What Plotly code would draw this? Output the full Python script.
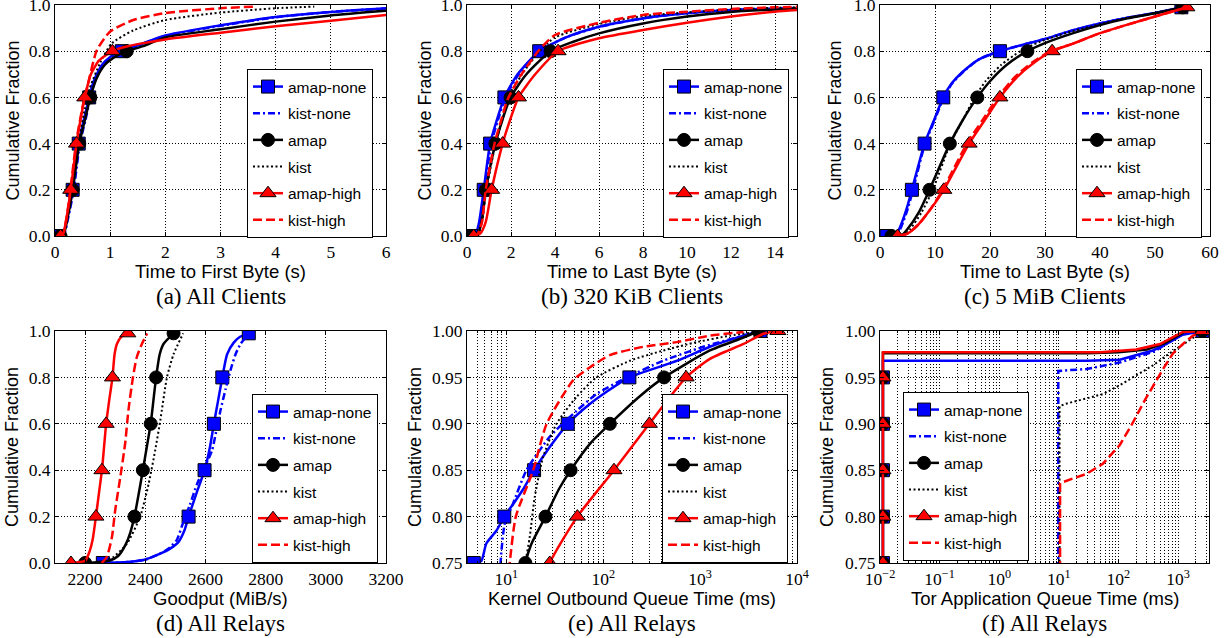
import plotly.graph_objects as go

W, H = 1231, 638

SERIES = ["amap-none", "kist-none", "amap", "kist", "amap-high", "kist-high"]

# ---------------- (a) Time to First Byte, all clients ----------------
A_AMAP_NONE_X = [0.06, 0.15, 0.22, 0.32, 0.43, 0.52, 0.62, 0.7, 0.85, 1.0, 1.21, 1.5, 2.0, 3.0, 4.0, 5.0, 6.0]
A_AMAP_NONE_Y = [0.0, 0.01, 0.08, 0.2, 0.4, 0.5, 0.6, 0.67, 0.74, 0.775, 0.8, 0.825, 0.868, 0.912, 0.948, 0.97, 0.986]
A_KIST_NONE_X = [0.12, 0.17, 0.24, 0.34, 0.45, 0.55, 0.64, 0.72, 0.86, 1.0, 1.25, 1.5, 2.0, 3.0, 4.0, 5.0, 6.0]
A_KIST_NONE_Y = [0.0, 0.01, 0.08, 0.2, 0.4, 0.5, 0.6, 0.67, 0.74, 0.772, 0.8, 0.825, 0.866, 0.91, 0.947, 0.97, 0.985]
A_AMAP_X = [0.1, 0.16, 0.23, 0.32, 0.44, 0.54, 0.64, 0.75, 0.9, 1.05, 1.3, 1.6, 2.0, 3.0, 4.0, 5.0, 6.0]
A_AMAP_Y = [0.0, 0.01, 0.08, 0.2, 0.4, 0.5, 0.6, 0.68, 0.74, 0.77, 0.8, 0.822, 0.86, 0.895, 0.928, 0.955, 0.975]
A_KIST_X = [0.1, 0.16, 0.22, 0.3, 0.42, 0.54, 0.63, 0.82, 1.03, 1.42, 2.0, 3.0, 4.0, 4.7]
A_KIST_Y = [0.0, 0.01, 0.08, 0.2, 0.4, 0.55, 0.64, 0.75, 0.834, 0.89, 0.935, 0.967, 0.986, 0.993]
A_AMAP_HIGH_X = [0.1, 0.15, 0.21, 0.285, 0.39, 0.46, 0.54, 0.65, 0.8, 1.04, 1.3, 1.6, 2.0, 3.0, 4.0, 5.0, 6.0]
A_AMAP_HIGH_Y = [0.0, 0.01, 0.08, 0.2, 0.4, 0.5, 0.6, 0.7, 0.76, 0.8, 0.82, 0.835, 0.851, 0.88, 0.908, 0.932, 0.957]
A_KIST_HIGH_X = [0.1, 0.15, 0.21, 0.28, 0.38, 0.5, 0.6, 0.76, 1.0, 1.42, 2.0, 3.0, 3.6]
A_KIST_HIGH_Y = [0.0, 0.01, 0.08, 0.2, 0.4, 0.56, 0.66, 0.805, 0.885, 0.935, 0.965, 0.986, 0.993]

# ---------------- (b) Time to Last Byte, 320 KiB clients ----------------
B_AMAP_NONE_X = [0.19, 0.4, 0.55, 0.76, 1.05, 1.35, 1.7, 2.3, 3.28, 4.5, 6, 8, 10, 12, 15]
B_AMAP_NONE_Y = [0.0, 0.01, 0.06, 0.2, 0.4, 0.5, 0.6, 0.7, 0.8, 0.86, 0.906, 0.942, 0.964, 0.978, 0.986]
B_KIST_NONE_X = [0.25, 0.42, 0.58, 0.8, 1.1, 1.4, 1.75, 2.35, 3.3, 4.5, 6, 8, 10, 12, 15]
B_KIST_NONE_Y = [0.0, 0.01, 0.06, 0.2, 0.4, 0.5, 0.6, 0.7, 0.8, 0.86, 0.905, 0.943, 0.965, 0.978, 0.987]
B_AMAP_X = [0.2, 0.5, 0.66, 0.86, 1.29, 1.6, 1.98, 2.7, 3.8, 4.8, 6, 8, 10, 12, 15]
B_AMAP_Y = [0.0, 0.01, 0.06, 0.2, 0.4, 0.5, 0.6, 0.7, 0.8, 0.84, 0.877, 0.92, 0.95, 0.97, 0.985]
B_KIST_X = [0.25, 0.5, 0.68, 0.88, 1.3, 1.6, 1.9, 2.5, 3.3, 4.0, 6, 8, 10, 12, 14, 15]
B_KIST_Y = [0.0, 0.01, 0.06, 0.2, 0.4, 0.5, 0.6, 0.7, 0.8, 0.86, 0.918, 0.952, 0.968, 0.98, 0.988, 0.99]
B_AMAP_HIGH_X = [0.3, 0.6, 0.85, 1.12, 1.62, 1.95, 2.34, 3.1, 4.14, 6, 8, 10, 12, 14, 15]
B_AMAP_HIGH_Y = [0.0, 0.01, 0.06, 0.2, 0.4, 0.5, 0.6, 0.7, 0.8, 0.856, 0.892, 0.923, 0.95, 0.971, 0.978]
B_KIST_HIGH_X = [0.25, 0.5, 0.68, 0.85, 1.25, 1.55, 1.84, 2.41, 3.28, 4.0, 6, 8, 10, 12, 14, 15]
B_KIST_HIGH_Y = [0.0, 0.01, 0.06, 0.2, 0.4, 0.5, 0.59, 0.69, 0.805, 0.87, 0.923, 0.957, 0.971, 0.983, 0.99, 0.992]

# ---------------- (c) Time to Last Byte, 5 MiB clients ----------------
C_AMAP_NONE_X = [1.2, 3.0, 4.0, 5.0, 5.8, 8.1, 9.8, 11.5, 13, 15, 18, 21.8, 25, 30, 35, 40, 45, 50, 54.8]
C_AMAP_NONE_Y = [0.0, 0.01, 0.06, 0.13, 0.2, 0.4, 0.5, 0.6, 0.66, 0.71, 0.765, 0.8, 0.822, 0.853, 0.89, 0.92, 0.945, 0.965, 0.99]
C_KIST_NONE_X = [1.5, 3.2, 4.2, 5.2, 6.0, 8.2, 9.9, 11.6, 13.1, 15.1, 18, 21.6, 25, 30, 35, 40, 45, 50, 55]
C_KIST_NONE_Y = [0.0, 0.01, 0.06, 0.13, 0.2, 0.4, 0.5, 0.6, 0.66, 0.71, 0.765, 0.8, 0.822, 0.853, 0.89, 0.92, 0.945, 0.965, 0.99]
C_AMAP_X = [2.1, 4.0, 5.0, 7.0, 9.0, 12.7, 15.0, 17.7, 20, 23, 26.8, 30, 35, 40, 45, 50, 55]
C_AMAP_Y = [0.0, 0.005, 0.03, 0.1, 0.2, 0.4, 0.5, 0.6, 0.67, 0.74, 0.8, 0.835, 0.877, 0.913, 0.942, 0.964, 0.99]
C_KIST_X = [2.5, 4.5, 5.5, 7.5, 9.6, 12.8, 15.0, 17.2, 19.2, 22.0, 25.5, 29, 34, 40, 45, 50, 55]
C_KIST_Y = [0.0, 0.005, 0.03, 0.1, 0.2, 0.4, 0.5, 0.6, 0.67, 0.74, 0.8, 0.84, 0.88, 0.917, 0.945, 0.966, 0.99]
C_AMAP_HIGH_X = [3.2, 5.0, 7.0, 9.0, 11.6, 16.2, 19.0, 21.8, 25, 28, 31.3, 35, 40, 45, 50, 55.8]
C_AMAP_HIGH_Y = [0.0, 0.01, 0.05, 0.11, 0.2, 0.4, 0.5, 0.6, 0.69, 0.75, 0.8, 0.832, 0.878, 0.915, 0.95, 0.99]
C_KIST_HIGH_X = [3.5, 5.0, 7.0, 9.0, 11.4, 15.8, 18.6, 21.4, 24.6, 27.6, 31.0, 35, 40, 45, 50, 55.8]
C_KIST_HIGH_Y = [0.0, 0.01, 0.05, 0.11, 0.2, 0.4, 0.5, 0.6, 0.69, 0.75, 0.8, 0.832, 0.878, 0.915, 0.95, 0.99]

# ---------------- (d) Goodput, all relays ----------------
D_AMAP_NONE_X = [2259, 2350, 2400, 2440, 2480, 2510, 2530, 2544, 2570, 2597, 2615, 2628, 2642, 2656, 2672, 2694, 2715, 2744]
D_AMAP_NONE_Y = [0.0, 0.005, 0.015, 0.035, 0.06, 0.09, 0.14, 0.2, 0.3, 0.4, 0.5, 0.6, 0.7, 0.8, 0.9, 0.95, 0.975, 0.99]
D_KIST_NONE_X = [2270, 2350, 2400, 2440, 2475, 2505, 2522, 2548, 2572, 2600, 2622, 2636, 2650, 2667, 2683, 2700, 2717, 2745]
D_KIST_NONE_Y = [0.0, 0.005, 0.015, 0.035, 0.06, 0.1, 0.16, 0.25, 0.34, 0.42, 0.486, 0.57, 0.658, 0.75, 0.83, 0.9, 0.945, 0.99]
D_AMAP_X = [2200, 2280, 2310, 2335, 2350, 2364, 2392, 2405, 2418, 2427, 2436, 2448, 2461, 2494]
D_AMAP_Y = [0.0, 0.01, 0.03, 0.08, 0.13, 0.2, 0.4, 0.5, 0.6, 0.7, 0.8, 0.9, 0.945, 0.99]
D_KIST_X = [2250, 2294, 2339, 2383, 2411, 2433, 2450, 2472, 2494, 2526]
D_KIST_Y = [0.0, 0.026, 0.083, 0.2, 0.34, 0.486, 0.615, 0.8, 0.9, 0.99]
D_AMAP_HIGH_X = [2153, 2200, 2215, 2225, 2236, 2246, 2256, 2263, 2270, 2280, 2291, 2298, 2306, 2320, 2342]
D_AMAP_HIGH_Y = [0.0, 0.01, 0.05, 0.1, 0.2, 0.3, 0.4, 0.5, 0.6, 0.7, 0.8, 0.9, 0.945, 0.975, 0.99]
D_KIST_HIGH_X = [2255, 2272, 2289, 2300, 2317, 2333, 2344, 2359, 2372, 2389, 2406]
D_KIST_HIGH_Y = [0.0, 0.026, 0.11, 0.227, 0.37, 0.514, 0.658, 0.8, 0.888, 0.945, 0.99]

# ---------------- (e) Kernel outbound queue time (ms), all relays ----------------
E_AMAP_NONE_X = [3.5, 4.6, 5.5, 6.2, 7.9, 9.5, 12, 15, 19.3, 28, 43, 70, 110, 186, 580, 1260, 2800, 4200]
E_AMAP_NONE_Y = [0.70, 0.75, 0.752, 0.771, 0.785, 0.80, 0.815, 0.83, 0.85, 0.875, 0.90, 0.92, 0.935, 0.95, 0.968, 0.983, 0.995, 1.0]
E_KIST_NONE_X = [8.0, 8.7, 8.9, 9.6, 11.7, 16.1, 28, 53, 85, 161, 417, 1080, 2800, 4000]
E_KIST_NONE_Y = [0.70, 0.75, 0.764, 0.792, 0.814, 0.85, 0.886, 0.914, 0.932, 0.948, 0.968, 0.983, 0.995, 1.0]
E_AMAP_X = [14, 15.7, 18, 25.3, 35, 46, 75, 117, 240, 424, 1260, 2800, 4000]
E_AMAP_Y = [0.72, 0.75, 0.77, 0.80, 0.83, 0.85, 0.88, 0.90, 0.93, 0.95, 0.979, 0.993, 1.0]
E_KIST_X = [14, 15.7, 17.4, 19.6, 23.9, 32.9, 53, 85, 189, 417, 922, 2040, 3860]
E_KIST_Y = [0.70, 0.75, 0.778, 0.821, 0.864, 0.90, 0.929, 0.95, 0.968, 0.979, 0.988, 0.995, 0.999]
E_AMAP_HIGH_X = [20, 28, 54, 129, 299, 716, 1260, 2800, 4500, 6350]
E_AMAP_HIGH_Y = [0.70, 0.75, 0.80, 0.85, 0.90, 0.95, 0.97, 0.986, 0.997, 1.0]
E_KIST_HIGH_X = [9.5, 10.8, 12.5, 18.9, 26, 49, 73, 117, 259, 573, 1260, 2800]
E_KIST_HIGH_Y = [0.70, 0.75, 0.80, 0.85, 0.90, 0.947, 0.961, 0.974, 0.983, 0.988, 0.995, 0.999]

# ---------------- (f) Tor application queue time (ms), all relays ----------------
F_AMAP_NONE_X = [0.0112, 0.0112, 0.0112, 0.0112, 0.0112, 0.0112, 0.0112, 30, 105, 380, 725, 1200, 2570]
F_AMAP_NONE_Y = [0.0, 0.75, 0.80, 0.85, 0.90, 0.95, 0.968, 0.968, 0.969, 0.979, 0.988, 0.996, 1.0]
F_KIST_NONE_X = [9.8, 9.8, 9.8, 29, 105, 400, 800, 1200]
F_KIST_NONE_Y = [0.0, 0.75, 0.957, 0.959, 0.966, 0.978, 0.99, 0.998]
F_AMAP_X = [0.0112, 0.0112, 0.0112, 0.0112, 0.0112, 0.0112, 0.0112, 30, 100, 300, 600, 1000, 1300, 2570]
F_AMAP_Y = [0.0, 0.75, 0.80, 0.85, 0.90, 0.95, 0.976, 0.976, 0.977, 0.98, 0.987, 0.995, 0.999, 1.0]
F_KIST_X = [10.3, 10.3, 13.3, 29, 55, 105, 200, 380, 725, 1380, 2040]
F_KIST_Y = [0.0, 0.919, 0.9217, 0.927, 0.932, 0.9415, 0.952, 0.963, 0.976, 0.988, 0.995]
F_AMAP_HIGH_X = [0.0112, 0.0112, 0.0112, 0.0112, 0.0112, 0.0112, 0.0112, 50, 200, 500, 1000, 1200, 2570]
F_AMAP_HIGH_Y = [0.0, 0.75, 0.80, 0.85, 0.90, 0.95, 0.977, 0.977, 0.98, 0.986, 0.996, 0.999, 1.0]
F_KIST_HIGH_X = [10.5, 10.5, 17.2, 29, 55, 105, 164, 275, 560, 825, 1210, 1780, 2630]
F_KIST_HIGH_Y = [0.0, 0.836, 0.841, 0.846, 0.857, 0.877, 0.898, 0.925, 0.959, 0.976, 0.986, 0.995, 0.999]

# marker levels (cumulative fractions at which markers sit)
MARKS_FULL = [0.0, 0.2, 0.4, 0.6, 0.8, 0.99]
MARKS_TAIL = [0.75, 0.80, 0.85, 0.90, 0.95, 1.0]

# tick labels
FRAC_TICKS = [0.0, 0.2, 0.4, 0.6, 0.8, 1.0]
FRAC_LABELS = ["0.0", "0.2", "0.4", "0.6", "0.8", "1.0"]
TAIL_TICKS = [0.75, 0.80, 0.85, 0.90, 0.95, 1.00]
TAIL_LABELS = ["0.75", "0.80", "0.85", "0.90", "0.95", "1.00"]
A_XTICKS = [0, 1, 2, 3, 4, 5, 6]
B_XTICKS = [0, 2, 4, 6, 8, 10, 12, 14]
C_XTICKS = [0, 10, 20, 30, 40, 50, 60]
D_XTICKS = [2200, 2400, 2600, 2800, 3000, 3200]
E_XTICKS = [10, 100, 1000, 10000]
E_XLABELS = ["10<sup>1</sup>", "10<sup>2</sup>", "10<sup>3</sup>", "10<sup>4</sup>"]
F_XTICKS = [0.01, 0.1, 1, 10, 100, 1000]
F_XLABELS = ["10<sup>\u22122</sup>", "10<sup>\u22121</sup>", "10<sup>0</sup>",
             "10<sup>1</sup>", "10<sup>2</sup>", "10<sup>3</sup>"]

STYLE = {
    "amap-none": dict(color="#0000ff", dash="solid", width=2.5, symbol="square", size=13),
    "kist-none": dict(color="#0000ff", dash="7px,3px,2px,3px", width=2.5, symbol=None, size=0),
    "amap": dict(color="#000000", dash="solid", width=2.5, symbol="circle", size=13),
    "kist": dict(color="#000000", dash="2px,2.5px", width=2, symbol=None, size=0),
    "amap-high": dict(color="#ff0000", dash="solid", width=2.5, symbol="triangle-up", size=14),
    "kist-high": dict(color="#ff0000", dash="9px,4px", width=2.5, symbol=None, size=0),
}


def pack(prefix):
    g = globals()
    keys = ["AMAP_NONE", "KIST_NONE", "AMAP", "KIST", "AMAP_HIGH", "KIST_HIGH"]
    return {s: (g[f"{prefix}_{k}_X"], g[f"{prefix}_{k}_Y"]) for s, k in zip(SERIES, keys)}


def minor_log(lo, hi):
    return [m * 10.0 ** e for e in range(lo, hi) for m in range(2, 10)]


PANELS = [
    dict(key="a", data=pack("A"), xdom=(55, 386), ydom=(5, 236), xtype="linear", xrange=[0, 6],
         xticks=A_XTICKS, xlabels=[str(v) for v in A_XTICKS], yrange=[0, 1], yticks=FRAC_TICKS,
         ylabels=FRAC_LABELS, marks=MARKS_FULL, legend=(247, 69), spline=True,
         xtitle="Time to First Byte (s)", caption="(a) All Clients", ytx=13),
    dict(key="b", data=pack("B"), xdom=(467, 797), ydom=(5, 236), xtype="linear", xrange=[0, 15],
         xticks=B_XTICKS, xlabels=[str(v) for v in B_XTICKS], yrange=[0, 1], yticks=FRAC_TICKS,
         ylabels=FRAC_LABELS, marks=MARKS_FULL, legend=(663, 69), spline=True,
         xtitle="Time to Last Byte (s)", caption="(b) 320 KiB Clients", ytx=425),
    dict(key="c", data=pack("C"), xdom=(880, 1210), ydom=(5, 236), xtype="linear", xrange=[0, 60],
         xticks=C_XTICKS, xlabels=[str(v) for v in C_XTICKS], yrange=[0, 1], yticks=FRAC_TICKS,
         ylabels=FRAC_LABELS, marks=MARKS_FULL, legend=(1076, 69), spline=True,
         xtitle="Time to Last Byte (s)", caption="(c) 5 MiB Clients", ytx=835),
    dict(key="d", data=pack("D"), xdom=(55, 386), ydom=(331, 563), xtype="linear", xrange=[2100, 3200],
         xticks=D_XTICKS, xlabels=[str(v) for v in D_XTICKS], yrange=[0, 1], yticks=FRAC_TICKS,
         ylabels=FRAC_LABELS, marks=MARKS_FULL, legend=(252, 394), spline=True,
         xtitle="Goodput (MiB/s)", caption="(d) All Relays", ytx=12),
    dict(key="e", data=pack("E"), xdom=(467, 797), ydom=(331, 563), xtype="log", xrange=[0.593, 4],
         xticks=E_XTICKS, xlabels=E_XLABELS, yrange=[0.75, 1.0], yticks=TAIL_TICKS,
         ylabels=TAIL_LABELS, marks=MARKS_TAIL, legend=(662, 394), spline=True,
         minor=minor_log(0, 4), xtitle="Kernel Outbound Queue Time (ms)", caption="(e) All Relays", ytx=415),
    dict(key="f", data=pack("F"), xdom=(880, 1209), ydom=(331, 563), xtype="log", xrange=[-2, 3.52],
         xticks=F_XTICKS, xlabels=F_XLABELS, yrange=[0.75, 1.0], yticks=TAIL_TICKS,
         ylabels=TAIL_LABELS, marks=MARKS_TAIL, legend=(903, 392), spline=False,
         minor=minor_log(-2, 4), xtitle="Tor Application Queue Time (ms)", caption="(f) All Relays", ytx=827),
]

SERIF = "Liberation Serif"
SANS = "Liberation Sans"

fig = go.Figure()
layout = dict(width=W, height=H, margin=dict(l=0, r=0, t=0, b=0), paper_bgcolor="white",
              plot_bgcolor="white", showlegend=True, annotations=[])

grid_common = dict(showline=True, linecolor="black", linewidth=1, mirror="ticks", ticks="inside",
                   ticklen=4, tickwidth=1, tickcolor="black", showgrid=True, gridcolor="#000000",
                   griddash="1px,2px", gridwidth=0.8, zeroline=False, automargin=False,
                   ticklabeloverflow="allow",
                   tickfont=dict(family=SERIF, size=17.5, color="black"), tickmode="array")

for i, P in enumerate(PANELS):
    n = i + 1
    sx = "" if n == 1 else str(n)
    xa, ya, lg = "x" + sx, "y" + sx, "legend" + sx
    for name in SERIES:
        xs, ys = P["data"][name]
        st = STYLE[name]
        grp = f"{P['key']}-{name}"
        line = dict(color=st["color"], dash=st["dash"], width=st["width"],
                    shape="spline" if P["spline"] else "linear", smoothing=0.6)
        fig.add_trace(go.Scatter(x=xs, y=ys, mode="lines", line=line, xaxis=xa, yaxis=ya,
                                 showlegend=False, legendgroup=grp, hoverinfo="skip"))
        marker = None
        if st["symbol"]:
            marker = dict(symbol=st["symbol"], size=st["size"], color=st["color"],
                          line=dict(color="black", width=1))
            pts = [(x, y) for x, y in zip(xs, ys) if any(abs(y - l) < 1e-9 for l in P["marks"])]
            fig.add_trace(go.Scatter(x=[p[0] for p in pts], y=[p[1] for p in pts], mode="markers",
                                     marker=marker, xaxis=xa, yaxis=ya, showlegend=False,
                                     legendgroup=grp, hoverinfo="skip"))
        fig.add_trace(go.Scatter(x=[None], y=[None], mode="lines+markers" if marker else "lines",
                                 line=dict(color=st["color"], dash=st["dash"], width=st["width"]),
                                 marker=marker, name=name, legend=lg, legendgroup=grp,
                                 xaxis=xa, yaxis=ya, showlegend=True))

    xaxis = dict(grid_common, domain=[P["xdom"][0] / W, P["xdom"][1] / W], anchor=ya,
                 type=P["xtype"], range=P["xrange"], tickvals=P["xticks"], ticktext=P["xlabels"])
    if "minor" in P:
        xaxis["minor"] = dict(tickmode="array", tickvals=P["minor"], ticks="inside", ticklen=2,
                              tickcolor="black", showgrid=True, gridcolor="#000000",
                              griddash="1px,2px", gridwidth=0.8)
    yaxis = dict(grid_common, domain=[1 - P["ydom"][1] / H, 1 - P["ydom"][0] / H], anchor=xa,
                 range=P["yrange"], tickvals=P["yticks"], ticktext=P["ylabels"])
    layout["xaxis" + sx] = xaxis
    layout["yaxis" + sx] = yaxis
    layout[lg] = dict(x=P["legend"][0] / W, y=1 - P["legend"][1] / H, xanchor="left", yanchor="top",
                      bgcolor="white", bordercolor="black", borderwidth=1, traceorder="grouped",
                      tracegroupgap=3.5, font=dict(family=SANS, size=15.5, color="black"))

    top = P["ydom"][0] == 5
    xc = (P["xdom"][0] + P["xdom"][1]) / 2 / W
    layout["annotations"].append(dict(text=P["xtitle"], x=xc, y=1 - (271 if top else 598) / H,
                                      xref="paper", yref="paper", showarrow=False, xanchor="center",
                                      yanchor="middle", font=dict(family=SANS, size=18.5, color="black")))
    layout["annotations"].append(dict(text=P["caption"], x=xc, y=1 - (297 if top else 623) / H,
                                      xref="paper", yref="paper", showarrow=False, xanchor="center",
                                      yanchor="middle", font=dict(family=SERIF, size=23, color="black")))
    yc = 1 - (P["ydom"][0] + P["ydom"][1]) / 2 / H
    layout["annotations"].append(dict(text="Cumulative Fraction", x=P["ytx"] / W, y=yc, textangle=-90,
                                      xref="paper", yref="paper", showarrow=False, xanchor="center",
                                      yanchor="middle", font=dict(family=SANS, size=18, color="black")))

fig.update_layout(**layout)
fig.write_html("out.html", config={"displayModeBar": False},
               post_script="document.body.style.margin='0';document.body.style.overflow='hidden';")
